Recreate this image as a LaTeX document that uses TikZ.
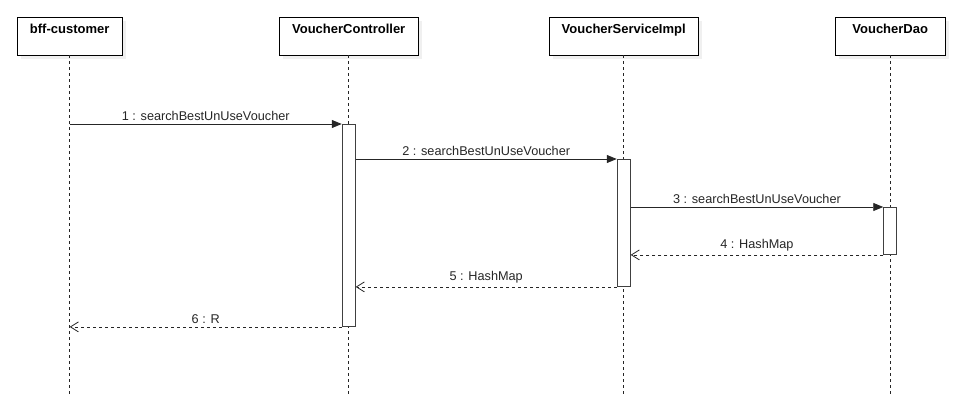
\documentclass[tikz,border=0pt]{standalone}
\usepackage{fontspec}
\setmainfont{Liberation Sans}
\usetikzlibrary{arrows.meta,shadows,positioning}

\begin{document}
\begin{tikzpicture}[x=1pt,y=-1pt,
    actorbox/.style={draw,fill=white,anchor=north west,minimum height=38pt,
      inner xsep=0pt,inner ysep=4pt,text height=12pt,text depth=18pt,
      font=\bfseries\fontsize{13}{15}\selectfont,
      drop shadow={shadow xshift=4pt,shadow yshift=-4pt,opacity=1,fill=gray!12}},
    lifeline/.style={black!85,line width=0.8pt,dash pattern=on 3pt off 3pt},
    actbar/.style={draw=black!75,fill=white,line width=0.9pt,anchor=north,
      minimum width=13pt,inner sep=0pt},
    call/.style={black!85,line width=0.9pt,-{Triangle[length=10pt,width=8pt]}},
    reply/.style={black!85,line width=0.8pt,dash pattern=on 3pt off 3pt,
      -{Straight Barb[length=8pt,width=10pt,line width=0.8pt]}},
    msglabel/.style={above,inner sep=3pt,font=\fontsize{12.7}{15}\selectfont}]
  \useasboundingbox (0,0) rectangle (964,407);
  % Acteurs
  \node[actorbox,minimum width=105pt] (bff) at (17,17) {bff-customer};
  \node[actorbox,minimum width=139pt] (ctrl) at (279,17) {VoucherController};
  \node[actorbox,minimum width=149pt] (svc) at (549,17) {VoucherServiceImpl};
  \node[actorbox,minimum width=110pt] (dao) at (835,17) {VoucherDao};
  \coordinate (bottom) at (0,397);
  % Lignes de vie
  \foreach \a in {bff,ctrl,svc,dao}
    \draw[lifeline] (\a.south) -- (\a.south |- bottom);
  % Activations
  \node[actbar,minimum height=202pt] (act1) at (ctrl.south |- 0,124) {};
  \node[actbar,minimum height=127pt] (act2) at (svc.south |- 0,159) {};
  \node[actbar,minimum height=47pt] (act3) at (dao.south |- 0,207) {};
  % Messages
  \draw[call] (bff.south |- act1.north) -- node[msglabel]{1 : searchBestUnUseVoucher} (act1.north west);
  \draw[call] (act1.east |- act2.north) -- node[msglabel]{2 : searchBestUnUseVoucher} (act2.north west);
  \draw[call] (act2.east |- act3.north) -- node[msglabel]{3 : searchBestUnUseVoucher} (act3.north west);
  \draw[reply] (act3.south west) -- node[msglabel]{4 : HashMap} (act2.east |- act3.south);
  \draw[reply] (act2.south west) -- node[msglabel]{5 : HashMap} (act1.east |- act2.south);
  \draw[reply] (act1.south west) -- node[msglabel]{6 : R} (bff.south |- act1.south);
\end{tikzpicture}
\end{document}
